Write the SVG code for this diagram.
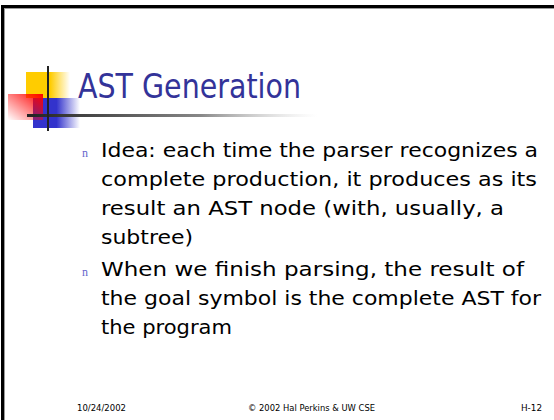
<svg xmlns="http://www.w3.org/2000/svg" width="554" height="420" viewBox="0 0 554 420">
  <defs>
    <linearGradient id="gYellow" x1="0" y1="0" x2="1" y2="0">
      <stop offset="0" stop-color="#ffcc00"/>
      <stop offset="0.55" stop-color="#ffcc00"/>
      <stop offset="1" stop-color="#ffcc00" stop-opacity="0"/>
    </linearGradient>
    <linearGradient id="gRed" x1="1" y1="0" x2="0" y2="1">
      <stop offset="0" stop-color="#ff0000"/>
      <stop offset="1" stop-color="#ff0000" stop-opacity="0"/>
    </linearGradient>
    <linearGradient id="gBlue" x1="0" y1="0" x2="1" y2="0">
      <stop offset="0" stop-color="#3333cc"/>
      <stop offset="0.5" stop-color="#3333cc"/>
      <stop offset="1" stop-color="#3333cc" stop-opacity="0"/>
    </linearGradient>
    <linearGradient id="gRule" x1="0" y1="0" x2="1" y2="0">
      <stop offset="0" stop-color="#222222"/>
      <stop offset="0.6" stop-color="#888888"/>
      <stop offset="1" stop-color="#cccccc" stop-opacity="0"/>
    </linearGradient>
    <style>
      .title { font-family: "DejaVu Sans", "Liberation Sans", sans-serif; font-size: 33px; fill: #333399; }
      .body { font-family: "DejaVu Sans", "Liberation Sans", sans-serif; font-size: 20px; fill: #000000; }
      .bullet { font-family: "Liberation Serif", serif; font-size: 12px; fill: #6666cc; }
      .foot { font-family: "DejaVu Sans", "Liberation Sans", sans-serif; font-size: 9px; fill: #000000; }
    </style>
  </defs>

  <rect x="0" y="0" width="554" height="420" fill="#ffffff"/>

  <!-- slide frame -->
  <g id="frame">
    <rect x="1" y="5" width="553" height="3" fill="#000000"/>
    <rect x="1" y="5" width="3" height="415" fill="#000000"/>
    <rect x="4" y="8" width="550" height="1" fill="#9a9a9a"/>
    <rect x="4" y="8" width="1" height="412" fill="#9a9a9a"/>
  </g>

  <!-- template logo -->
  <g id="logo">
    <rect x="26" y="72" width="44" height="26" fill="url(#gYellow)"/>
    <rect x="33" y="98" width="47" height="30" fill="url(#gBlue)"/>
    <rect x="8" y="94" width="35" height="26" fill="url(#gRed)"/>
    <rect x="27" y="114" width="290" height="3" fill="url(#gRule)"/>
    <rect x="47" y="66" width="2" height="65" fill="#222222"/>
  </g>

  <g id="title">
    <text class="title" x="78" y="98" textLength="223" lengthAdjust="spacingAndGlyphs">AST Generation</text>
  </g>

  <g id="bullets">
    <text class="bullet" x="82" y="157">n</text>
    <text class="body" x="101" y="157" textLength="437" lengthAdjust="spacingAndGlyphs">Idea: each time the parser recognizes a</text>
    <text class="body" x="101" y="186" textLength="436" lengthAdjust="spacingAndGlyphs">complete production, it produces as its</text>
    <text class="body" x="101" y="215" textLength="403" lengthAdjust="spacingAndGlyphs">result an AST node (with, usually, a</text>
    <text class="body" x="101" y="244" textLength="92" lengthAdjust="spacingAndGlyphs">subtree)</text>
    <text class="bullet" x="82" y="276">n</text>
    <text class="body" x="101" y="276" textLength="423" lengthAdjust="spacingAndGlyphs">When we finish parsing, the result of</text>
    <text class="body" x="101" y="305" textLength="440" lengthAdjust="spacingAndGlyphs">the goal symbol is the complete AST for</text>
    <text class="body" x="101" y="334" textLength="131" lengthAdjust="spacingAndGlyphs">the program</text>
  </g>

  <g id="footer">
    <text class="foot" x="77" y="411" textLength="49" lengthAdjust="spacingAndGlyphs">10/24/2002</text>
    <text class="foot" x="248" y="411" textLength="127" lengthAdjust="spacingAndGlyphs">© 2002 Hal Perkins &amp; UW CSE</text>
    <text class="foot" x="521" y="411" textLength="21" lengthAdjust="spacingAndGlyphs">H-12</text>
  </g>
</svg>
